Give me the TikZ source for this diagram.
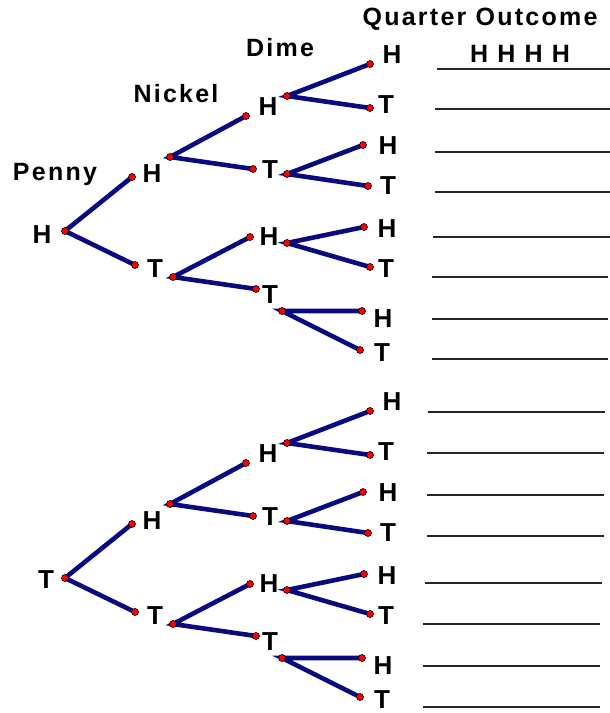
\documentclass[tikz,border=0pt]{standalone}
\usepackage{fontspec}
\setmainfont{Liberation Sans}
\newfontfamily\hdrfont{Liberation Sans}[LetterSpace=9]
\definecolor{navy}{RGB}{10,10,128}
\definecolor{dotred}{RGB}{255,0,0}
\begin{document}
\begin{tikzpicture}[x=1pt,y=-1pt,
  branch/.style={draw=navy,line width=4.6pt,line cap=round},
  dotnode/.style={circle,fill=dotred,draw=black,line width=0.6pt,inner sep=0pt,minimum size=7pt},
  lbl/.style={font=\fontsize{26}{30}\selectfont\bfseries,anchor=base,inner sep=0pt},
  hdr/.style={font=\hdrfont\fontsize{25}{29}\selectfont\bfseries,anchor=base,inner sep=0pt},
  blank/.style={draw=black!85,line width=1.1pt}]
\useasboundingbox (0,0) rectangle (610,713);

% headers
\node[hdr] (hPenny) at (55,180) {Penny};
\node[hdr] (hNickel) at (176,102) {Nickel};
\node[hdr] (hDime) at (280,56) {Dime};
\node[hdr] (hQuarter) at (480,25) {Quarter Outcome};
\node[hdr] (hEx) at (520,62) {H H H H};

% root labels
\node[lbl] (aL0) at (42,243) {H};
\node[lbl] (bL0) at (46,588) {T};

\foreach \t/\d in {a/0,b/347}{
\begin{scope}[shift={(0,\d)}]
 \coordinate (\t0) at (65,231);
 \coordinate (\t1H) at (132,177);
 \coordinate (\t1T) at (135,265);
 \coordinate (\t2Hs) at (170,157);
 \coordinate (\t2Ts) at (173,277);
 \coordinate (\t2HH) at (246,116);
 \coordinate (\t2HT) at (253,169);
 \coordinate (\t2TH) at (250,237);
 \coordinate (\t2TT) at (256,289);
 \coordinate (\t3HHs) at (287,96);
 \coordinate (\t3HTs) at (287,174);
 \coordinate (\t3THs) at (287,243);
 \coordinate (\t3TTs) at (282,311);
 \coordinate (\t3HHH) at (370,64);
 \coordinate (\t3HHT) at (370,108);
 \coordinate (\t3HTH) at (363,145);
 \coordinate (\t3HTT) at (368,186);
 \coordinate (\t3THH) at (364,227);
 \coordinate (\t3THT) at (370,267);
 \coordinate (\t3TTH) at (362,311);
 \coordinate (\t3TTT) at (360,350);
 % branches
 \draw[branch] (\t1H) -- (\t0) -- (\t1T);
 \draw[branch] (\t2HH) -- (\t2Hs) -- (\t2HT);
 \draw[branch] (\t2TH) -- (\t2Ts) -- (\t2TT);
 \draw[branch] (\t3HHH) -- (\t3HHs) -- (\t3HHT);
 \draw[branch] (\t3HTH) -- (\t3HTs) -- (\t3HTT);
 \draw[branch] (\t3THH) -- (\t3THs) -- (\t3THT);
 \draw[branch] (\t3TTH) -- (\t3TTs) -- (\t3TTT);
 % dots
 \foreach \c in {0,1H,1T,2Hs,2Ts,2HH,2HT,2TH,2TT,3HHs,3HTs,3THs,3TTs,3HHH,3HHT,3HTH,3HTT,3THH,3THT,3TTH,3TTT}
   \node[dotnode] (\t d\c) at (\t\c) {};
 % labels
 \node[lbl] (\t L1H) at (152,182) {H};
 \node[lbl] (\t L1T) at (155,277) {T};
 \node[lbl] (\t L2HH) at (268,115) {H};
 \node[lbl] (\t L2HT) at (270,178) {T};
 \node[lbl] (\t L2TH) at (269,245) {H};
 \node[lbl] (\t L2TT) at (270,303) {T};
 \node[lbl] (\t L3HHH) at (392,63) {H};
 \node[lbl] (\t L3HHT) at (386,113) {T};
 \node[lbl] (\t L3HTH) at (388,154) {H};
 \node[lbl] (\t L3HTT) at (388,194) {T};
 \node[lbl] (\t L3THH) at (387,237) {H};
 \node[lbl] (\t L3THT) at (386,277) {T};
 \node[lbl] (\t L3TTH) at (383,327) {H};
 \node[lbl] (\t L3TTT) at (382,361) {T};
\end{scope}
}

% answer blanks
\foreach \xa/\xb/\yy in {437/610/69,435/610/109,435/610/152,435/610/192,433/610/237,432/608/277,432/608/319,432/608/359,
  428/605/412,427/604/453,427/604/495,427/604/536,425/602/583,423/600/624,423/600/666,423/600/707}
  \draw[blank] (\xa,\yy) -- (\xb,\yy);
\end{tikzpicture}
\end{document}
